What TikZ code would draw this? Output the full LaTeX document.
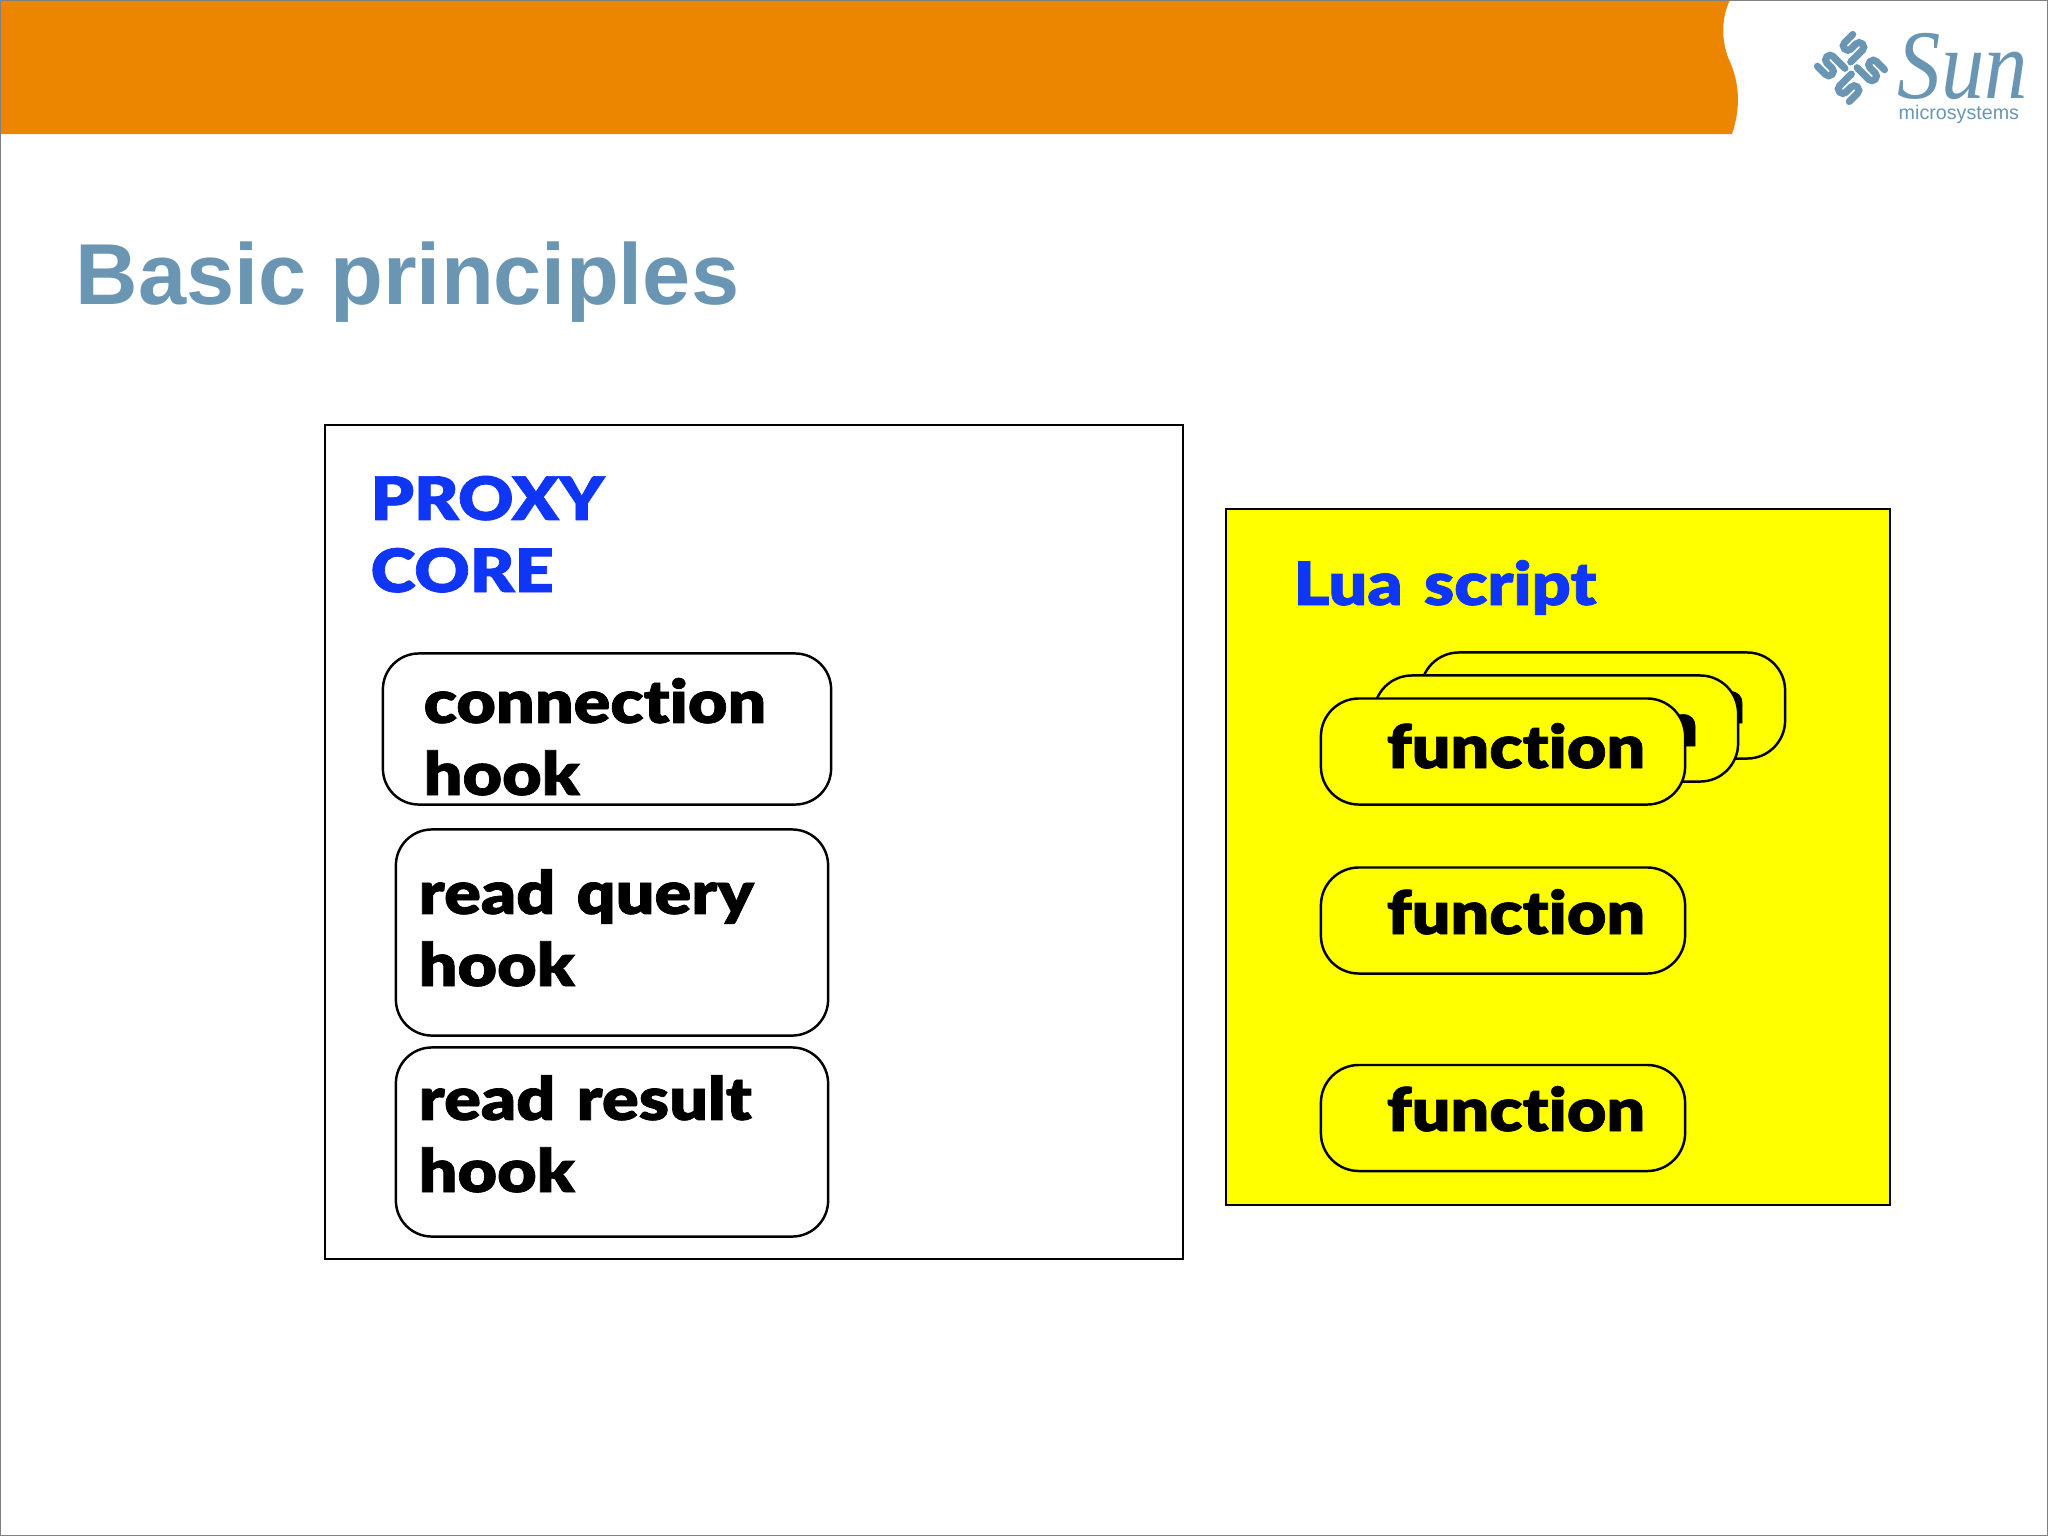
\documentclass[tikz,border=0pt]{standalone}
\usepackage{fontspec}
\setmainfont{Lato}[BoldFont={Lato Black},BoldFeatures={FakeBold=1.2,FakeStretch=1.14},Ligatures=NoCommon,WordSpace=1.35]
\newfontfamily\titlefont{Liberation Sans}
\newfontfamily\sunfont{Liberation Serif}[FakeStretch=0.88]
\usepackage{xcolor}
\usetikzlibrary{positioning}
\definecolor{sunorange}{HTML}{EC8500}
\definecolor{sunblue}{HTML}{6A96B3}
\definecolor{labelblue}{HTML}{0F35F5}
\definecolor{luayellow}{HTML}{FFFF00}
\tikzset{
	hookbox/.style={draw=black,line width=0.7pt,rounded corners=0.36cm,fill=white,inner sep=0pt},
	funcbox/.style={draw=black,line width=0.7pt,rounded corners=0.38cm,fill=luayellow,inner sep=0pt,minimum width=3.64cm,minimum height=1.06cm},
	bigbox/.style={draw=black,line width=0.7pt,inner sep=0pt},
	blacktext/.style={anchor=base west,inner sep=0pt,align=left,font=\bfseries\fontsize{17}{20.5}\selectfont},
	bluetext/.style={blacktext,text=labelblue},
	logobar/.style={line width=0.07cm,line cap=round,rounded corners=1.2pt,sunblue}
}
\begin{document}
\begin{tikzpicture}[x=0.01cm,y=-0.01cm]
	\useasboundingbox (0,0) rectangle (2048,1536);
	\fill[white] (0,0) rectangle (2048,1536);
	% header band
	\fill[sunorange] (0,0) -- (1730,0) .. controls (1720,20) and (1722,45) .. (1730,62) .. controls (1738,80) and (1742,105) .. (1732,134) -- (0,134) -- cycle;
	\draw[gray,line width=0.5pt] (0.5,0.5) rectangle (2047.5,1535.5);
	% logo
	\begin{scope}[shift={(1851,68)},rotate=45]
		\foreach \ang in {0,90,180,270}{
			\begin{scope}[rotate=\ang]
				\draw[logobar] (4,-4.5) -- (25,-4.5) -- (25,-13.5) -- (9,-13.5) -- (9,-22.5) -- (25,-22.5);
			\end{scope}
		}
	\end{scope}
	\node[anchor=base west,inner sep=0pt,text=sunblue,font=\sunfont\itshape\fontsize{28}{28}\selectfont] (sunname) at (1897,98) {Sun};
	\node[anchor=base west,inner sep=0pt,text=sunblue,font=\titlefont\fontsize{5.6}{6}\selectfont] (sunsub) at (1898,119) {microsystems};
	% title
	\node[anchor=base west,inner sep=0pt,text=sunblue,font=\titlefont\bfseries\fontsize{24.6}{30}\selectfont] (title) at (75,304) {Basic principles};
	% proxy side
	\node[bigbox,minimum width=8.58cm,minimum height=8.34cm] (proxy) at (754,842) {};
	\node[bluetext] (proxylabel) at (370,592) {PROXY\\CORE};
	\node[hookbox,minimum width=4.48cm,minimum height=1.51cm] (connhook) at (607,729) {};
	\node[blacktext] (connlabel) at (423,795) {connection\\hook};
	\node[hookbox,minimum width=4.32cm,minimum height=2.06cm] (queryhook) at (612,932.5) {};
	\node[blacktext] (querylabel) at (418,986) {read query\\hook};
	\node[hookbox,minimum width=4.32cm,minimum height=1.89cm] (resulthook) at (612,1142) {};
	\node[blacktext] (resultlabel) at (418,1192) {read result\\hook};
	% lua side
	\node[bigbox,fill=luayellow,minimum width=6.64cm,minimum height=6.96cm] (lua) at (1558,857) {};
	\node[bluetext] (lualabel) at (1293,605) {Lua script};
	\node[funcbox] (funcc) at (1603,705.5) {};
	\node[blacktext] (funcctext) at (1486,723) {function};
	\node[funcbox] (funcb) at (1556,728.5) {};
	\node[blacktext] (funcbtext) at (1439,746) {function};
	\node[funcbox] (funca) at (1503,751.5) {};
	\node[blacktext] (funcatext) at (1386,768) {function};
	\node[funcbox] (funcd) at (1503,920.5) {};
	\node[blacktext] (funcdtext) at (1386,934) {function};
	\node[funcbox] (funce) at (1503,1118) {};
	\node[blacktext] (funcetext) at (1386,1131) {function};
\end{tikzpicture}
\end{document}
